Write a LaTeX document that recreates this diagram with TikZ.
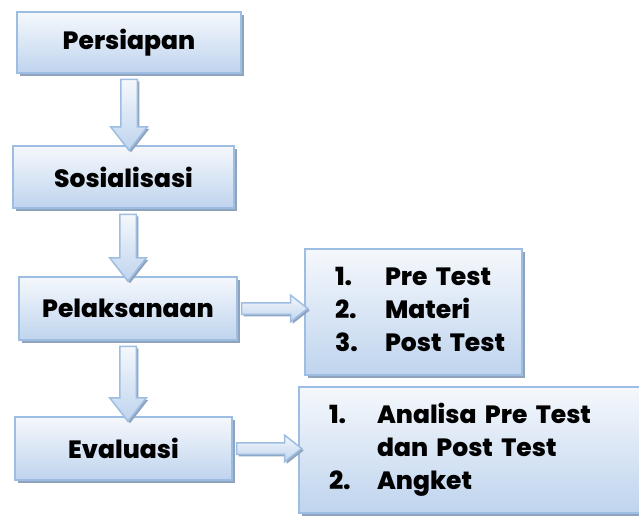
\documentclass[tikz,border=0pt]{standalone}
\usepackage{fontspec}
\setmainfont{Poppins}[BoldFont={Poppins ExtraBold}]
\usetikzlibrary{shapes.arrows,shadows,calc}
\definecolor{garis}{HTML}{9DBDE2}
\definecolor{atas}{HTML}{F5F8FC}
\definecolor{bawah}{HTML}{BFD4EE}
\definecolor{bayang}{HTML}{8FA3BD}
\tikzset{kotak/.style={draw=garis, line width=2pt, top color=atas, bottom color=bawah, inner sep=0pt, drop shadow={shadow xshift=3pt, shadow yshift=-3pt, fill=bayang, opacity=1}, font=\fontsize{25}{33}\selectfont\bfseries},
	daftar/.style={kotak, inner xsep=30pt, align=left},
	panah/.style={single arrow, draw=garis, line width=1.5pt, top color=atas, bottom color=bawah, inner xsep=0pt, single arrow tip angle=76, drop shadow={shadow xshift=2pt, shadow yshift=-2pt, fill=bayang, opacity=1}}}

\begin{document}
\begin{tikzpicture}[x=1pt, y=-1pt]
	\useasboundingbox (0,0) rectangle (639,515);
	\clip (0,0) rectangle (639,515);
	%Kotak
	\node[kotak, minimum width=224pt, minimum height=61pt] (persiapan) at (129,42.5) {Persiapan};
	\node[kotak, minimum width=221pt, minimum height=62pt] (sosialisasi) at (123.5,177) {Sosialisasi};
	\node[kotak, minimum width=218pt, minimum height=63pt] (pelaksanaan) at (128,308.5) {Pelaksanaan};
	\node[kotak, minimum width=217pt, minimum height=63pt] (evaluasi) at (123.5,448.5) {Evaluasi};
	%Daftar
	\node[daftar, minimum height=126pt, text width=157pt] (kegiatan) at (413.5,312) {\begin{tabular}{@{}p{50pt}@{}l@{}}
		1. & Pre Test\\
		2. & Materi\\
		3. & Post Test
	\end{tabular}};
	\node[daftar, minimum height=126pt, text width=286pt] (hasil) at (472,450) {\begin{tabular}{@{}p{48pt}@{}l@{}}
		1. & Analisa Pre Test\\
		   & dan Post Test\\
		2. & Angket
	\end{tabular}};
	%Panah ke bawah
	\path let \p1=(persiapan.south), \p2=(persiapan.south |- sosialisasi.north), \n1={veclen(\x2-\x1,\y2-\y1)} in
		node[panah, rotate=-90, minimum height=\n1, inner ysep=7.5pt, single arrow head extend=10pt] (p1) at ($(\p1)!.5!(\p2)$) {};
	\path let \p1=(sosialisasi.south -| pelaksanaan.north), \p2=(pelaksanaan.north), \n1={veclen(\x2-\x1,\y2-\y1)} in
		node[panah, rotate=-90, minimum height=\n1, inner ysep=7.5pt, single arrow head extend=10pt] (p2) at ($(\p1)!.5!(\p2)$) {};
	\path let \p1=(pelaksanaan.south), \p2=(pelaksanaan.south |- evaluasi.north), \n1={veclen(\x2-\x1,\y2-\y1)} in
		node[panah, rotate=-90, minimum height=\n1, inner ysep=7.5pt, single arrow head extend=10pt] (p3) at ($(\p1)!.5!(\p2)$) {};
	%Panah ke kanan
	\path let \p1=(pelaksanaan.east), \p2=(pelaksanaan.east -| kegiatan.west), \n1={veclen(\x2-\x1,\y2-\y1)} in
		node[panah, minimum height=\n1, inner ysep=5pt, single arrow head extend=7.5pt] (p4) at ($(\p1)!.5!(\p2)$) {};
	\path let \p1=(evaluasi.east), \p2=(evaluasi.east -| hasil.west), \n1={veclen(\x2-\x1,\y2-\y1)} in
		node[panah, minimum height=\n1, inner ysep=5pt, single arrow head extend=7.5pt] (p5) at ($(\p1)!.5!(\p2)$) {};
\end{tikzpicture}
\end{document}
